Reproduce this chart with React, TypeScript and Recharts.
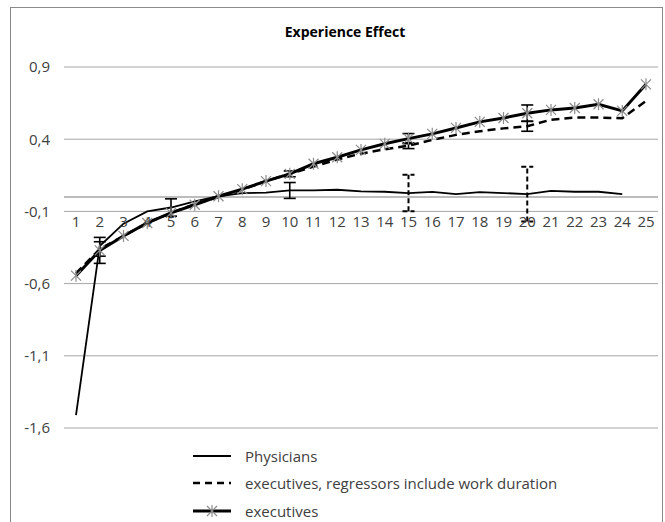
import React from 'react';
import { LineChart, Line, XAxis, YAxis, CartesianGrid, ReferenceLine, ErrorBar, Legend } from 'recharts';

const years = ['1','2','3','4','5','6','7','8','9','10','11','12','13','14','15','16','17','18','19','20','21','22','23','24','25'];
const physicians = [-1.51, -0.34, -0.185, -0.1, -0.073, -0.031, 0.005, 0.027, 0.03, 0.045, 0.045, 0.05, 0.038, 0.036, 0.027, 0.035, 0.02, 0.034, 0.027, 0.02, 0.042, 0.036, 0.036, 0.02, null];
const execWork = [-0.53, -0.36, -0.27, -0.18, -0.11, -0.05, 0.0, 0.05, 0.11, 0.16, 0.21, 0.26, 0.3, 0.33, 0.355, 0.395, 0.43, 0.455, 0.475, 0.49, 0.535, 0.55, 0.55, 0.545, 0.665];
const executives = [-0.545, -0.37, -0.27, -0.18, -0.11, -0.054, 0.005, 0.054, 0.11, 0.16, 0.23, 0.275, 0.326, 0.368, 0.404, 0.437, 0.478, 0.52, 0.547, 0.58, 0.603, 0.616, 0.642, 0.596, 0.78];

// error bar half-widths (null = none)
const execErr = [null, 0.09, null, null, null, null, null, null, null, 0.02, null, null, null, null, 0.035, null, null, null, null, 0.057, null, null, null, null, null];
const execWorkErr = [null, 0.05, null, null, null, null, null, null, null, null, null, null, null, null, 0.02, null, null, null, null, 0.035, null, null, null, null, null];
const physErrSolid = [null, null, null, null, 0.06, null, null, null, null, 0.055, null, null, null, null, null, null, null, null, null, null, null, null, null, null, null];
const physErrDashed = [null, null, null, null, null, null, null, null, null, null, null, null, null, null, 0.126, null, null, null, null, 0.19, null, null, null, null, null];

const yTicks = [-1.6, -1.1, -0.6, -0.1, 0.4, 0.9];
const Y_MIN = -1.6;
const Y_MAX = 0.9;
const X_AXIS_AT = -0.1;

const seriesNames = ['Physicians', 'executives, regressors include work duration', 'executives'];

const data = years.map((y, i) => ({
  year: y,
  phys: physicians[i],
  execWork: execWork[i],
  exec: executives[i],
  execErr: execErr[i],
  execWorkErr: execWorkErr[i],
  physErrSolid: physErrSolid[i],
  physErrDashed: physErrDashed[i],
}));

const W = 665;
const H = 522;
const M = { top: 67, right: 7, bottom: 64, left: 0 };
const X_AXIS_H = 30;
const PLOT_TOP = M.top;
const PLOT_H = H - M.top - M.bottom - X_AXIS_H;
const LABEL_Y = PLOT_TOP + ((Y_MAX - X_AXIS_AT) / (Y_MAX - Y_MIN)) * PLOT_H + 16;

const FONT = '"Open Sans", "Noto Sans", sans-serif';
const TXT = '#404040';

const XTick = (props: any) => {
  const { x, payload } = props;
  return (
    <text x={x} y={LABEL_Y} textAnchor="middle" fontSize={15} fontFamily={FONT} fill={TXT}>
      {payload.value}
    </text>
  );
};

const StarDot = (props: any) => {
  const { cx, cy, index } = props;
  if (cx == null || cy == null) return <g key={`s${index}`} />;
  const r = 5;
  return (
    <g key={`s${index}`} stroke="#8c8c8c" strokeWidth={1.2}>
      <line x1={cx - r} y1={cy - r} x2={cx + r} y2={cy + r} />
      <line x1={cx - r} y1={cy + r} x2={cx + r} y2={cy - r} />
      <line x1={cx} y1={cy - r - 1} x2={cx} y2={cy + r + 1} />
    </g>
  );
};

const LegendContent = (props: any) => {
  const { payload } = props;
  const names = (payload || []).map((p: any) => p.value);
  const items = seriesNames.filter((n) => names.includes(n));
  const sample = (name: string) => {
    const i = seriesNames.indexOf(name);
    if (i === 0) return <line x1={0} y1={8} x2={38} y2={8} stroke="#000" strokeWidth={2} />;
    if (i === 1) return <line x1={0} y1={8} x2={38} y2={8} stroke="#000" strokeWidth={2.5} strokeDasharray="7 5" />;
    return (
      <g>
        <line x1={0} y1={8} x2={38} y2={8} stroke="#000" strokeWidth={3} />
        <g stroke="#8c8c8c" strokeWidth={1.2}>
          <line x1={14} y1={3} x2={24} y2={13} />
          <line x1={14} y1={13} x2={24} y2={3} />
          <line x1={19} y1={2} x2={19} y2={14} />
        </g>
      </g>
    );
  };
  return (
    <div style={{ fontFamily: FONT, fontSize: 15, color: TXT }}>
      {items.map((name: string) => (
        <div key={name} style={{ display: 'flex', alignItems: 'center', height: 27.5 }}>
          <svg width={40} height={16} style={{ marginRight: 12 }}>{sample(name)}</svg>
          <span style={{ whiteSpace: 'nowrap' }}>{name}</span>
        </div>
      ))}
    </div>
  );
};

export default function App() {
  return (
    <div style={{ position: 'absolute', left: 0, top: 0, width: W, height: H, background: '#fff', overflow: 'hidden' }}>
      <div style={{ position: 'absolute', left: 10, top: 7, width: 651, height: 540, border: '1px solid #8a8a8a' }} />
      <div style={{ position: 'absolute', left: 0, top: 22, width: 690, textAlign: 'center', fontFamily: FONT, fontWeight: 700, fontSize: 14, color: '#000' }}>
        Experience Effect
      </div>
      <div style={{ position: 'absolute', left: 0, top: 0 }}>
        <LineChart width={W} height={H} data={data} margin={M}>
          <CartesianGrid vertical={false} stroke="#a6a6a6" strokeWidth={1} />
          <XAxis
            dataKey="year"
            height={X_AXIS_H}
            axisLine={false}
            tickLine={false}
            interval={0}
            padding={{ left: 12, right: 12 }}
            tick={<XTick />}
          />
          <YAxis
            type="number"
            domain={[Y_MIN, Y_MAX]}
            ticks={yTicks}
            width={64}
            axisLine={false}
            tickLine={false}
            tickSize={0}
            tickMargin={14}
            allowDataOverflow
            tick={{ fontSize: 15, fontFamily: FONT, fill: TXT }}
            tickFormatter={(v: number) => v.toFixed(1).replace('.', ',')}
          />
          <ReferenceLine y={0} stroke="#a6a6a6" strokeWidth={1.5} />
          <Legend
            layout="vertical"
            align="center"
            verticalAlign="middle"
            wrapperStyle={{ left: 193, top: 442, width: 440 }}
            content={<LegendContent />}
          />
          <Line
            name={seriesNames[0]}
            dataKey="phys"
            stroke="#000"
            strokeWidth={1.8}
            dot={false}
            activeDot={false}
            isAnimationActive={false}
            type="linear"
          >
            <ErrorBar dataKey="physErrSolid" width={6} stroke="#000" strokeWidth={1.6} direction="y" />
            <ErrorBar dataKey="physErrDashed" width={6} stroke="#000" strokeWidth={2} strokeDasharray="5 3" direction="y" />
          </Line>
          <Line
            name={seriesNames[1]}
            dataKey="execWork"
            stroke="#000"
            strokeWidth={2.5}
            strokeDasharray="8 5"
            dot={false}
            activeDot={false}
            isAnimationActive={false}
            type="linear"
          >
            <ErrorBar dataKey="execWorkErr" width={6} stroke="#000" strokeWidth={1.6} direction="y" />
          </Line>
          <Line
            name={seriesNames[2]}
            dataKey="exec"
            stroke="#000"
            strokeWidth={3}
            dot={StarDot}
            activeDot={false}
            isAnimationActive={false}
            type="linear"
          >
            <ErrorBar dataKey="execErr" width={6} stroke="#000" strokeWidth={1.6} direction="y" />
          </Line>
        </LineChart>
      </div>
    </div>
  );
}
